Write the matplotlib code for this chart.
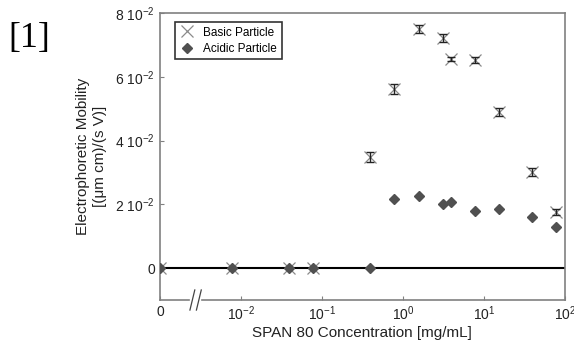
import matplotlib.pyplot as plt
from matplotlib.lines import Line2D

plt.rcParams['font.family'] = ['Liberation Sans', 'DejaVu Sans']
plt.rcParams['mathtext.fontset'] = 'custom'
plt.rcParams['mathtext.rm'] = 'Liberation Sans'
plt.rcParams['mathtext.it'] = 'Liberation Sans'

# zero concentration is drawn at 1e-3 (left end of the broken log axis)
basic_conc = [0.001, 0.0078, 0.039, 0.078, 0.39, 0.78, 1.56, 3.1, 3.9, 7.8, 15.6, 39, 78]
basic_mob = [0.0, 0.0, 0.0, 0.0, 0.0348, 0.0562, 0.0750, 0.0722, 0.0656, 0.0653, 0.0489, 0.0301, 0.0176]
basic_err = [0.0, 0.0, 0.0, 0.0, 0.0015, 0.0015, 0.0013, 0.0012, 0.0005, 0.0010, 0.0013, 0.0012, 0.0010]

acid_conc = [0.001, 0.0078, 0.039, 0.078, 0.39, 0.78, 1.56, 3.1, 3.9, 7.8, 15.6, 39, 78]
acid_mob = [0.0, 0.0, 0.0, 0.0, 0.0, 0.0216, 0.0226, 0.0201, 0.0207, 0.0179, 0.0185, 0.0160, 0.0129]

xticks = [1e-3, 1e-2, 1e-1, 1e0, 1e1, 1e2]
xticklabels = ['0', r'$10^{-2}$', r'$10^{-1}$', r'$10^{0}$', r'$10^{1}$', r'$10^{2}$']
yticks = [0, 0.02, 0.04, 0.06, 0.08]
yticklabels = ['0', r'$2\ 10^{-2}$', r'$4\ 10^{-2}$', r'$6\ 10^{-2}$', r'$8\ 10^{-2}$']

fig = plt.figure(figsize=(5.74, 3.45), dpi=100)
ax = fig.add_axes([0.2787, 0.1304, 0.7053, 0.8319])

ax.axhline(0, color='black', lw=1.5, zorder=1)

ax.errorbar(basic_conc, basic_mob, yerr=basic_err, fmt='none', ecolor='#222222',
            elinewidth=1.0, capsize=3, capthick=1.0, zorder=3)
ax.plot(basic_conc, basic_mob, ls='none', marker='x', ms=8, mew=0.9,
        color='#8a8a8a', zorder=2, label='Basic Particle')
ax.plot(acid_conc, acid_mob, ls='none', marker='D', ms=5, color='#505050',
        zorder=4, label='Acidic Particle')

ax.set_xscale('log')
ax.set_xlim(1e-3, 1e2)
ax.set_ylim(-0.01, 0.08)
ax.set_xticks(xticks)
ax.set_xticklabels(xticklabels)
ax.minorticks_off()
ax.set_yticks(yticks)
ax.set_yticklabels(yticklabels)
ax.tick_params(direction='in', length=3, color='#808080', labelsize=10, labelcolor='#222222')

for s in ['left', 'top', 'right']:
    ax.spines[s].set_color('#808080')
    ax.spines[s].set_linewidth(1.2)
ax.spines['bottom'].set_visible(False)

# broken bottom axis with // marks
gc = '#808080'
ax.add_line(Line2D([0, 0.072], [0, 0], transform=ax.transAxes, color=gc, lw=1.2, clip_on=False))
ax.add_line(Line2D([0.104, 1], [0, 0], transform=ax.transAxes, color=gc, lw=1.2, clip_on=False))
for x0 in [0.074, 0.090]:
    ax.add_line(Line2D([x0, x0 + 0.012], [-0.035, 0.035], transform=ax.transAxes,
                       color='#444444', lw=0.9, clip_on=False))

ax.set_xlabel('SPAN 80 Concentration [mg/mL]', fontsize=11, color='#222222', labelpad=2)
ax.set_ylabel('Electrophoretic Mobility\n[(\u03bcm cm)/(s V)]', fontsize=11,
              color='#222222', labelpad=6, linespacing=1.3)

leg = ax.legend(loc='upper left', fontsize=8.5, frameon=True, fancybox=False,
                edgecolor='black', borderpad=0.4, handlelength=1.3,
                handletextpad=0.7, labelspacing=0.35, bbox_to_anchor=(0.022, 0.99))
leg.get_frame().set_linewidth(1.2)

fig.text(0.015, 0.865, '[1]', fontsize=26, family='Liberation Serif', color='black')

fig.savefig('out.png', dpi=100)
